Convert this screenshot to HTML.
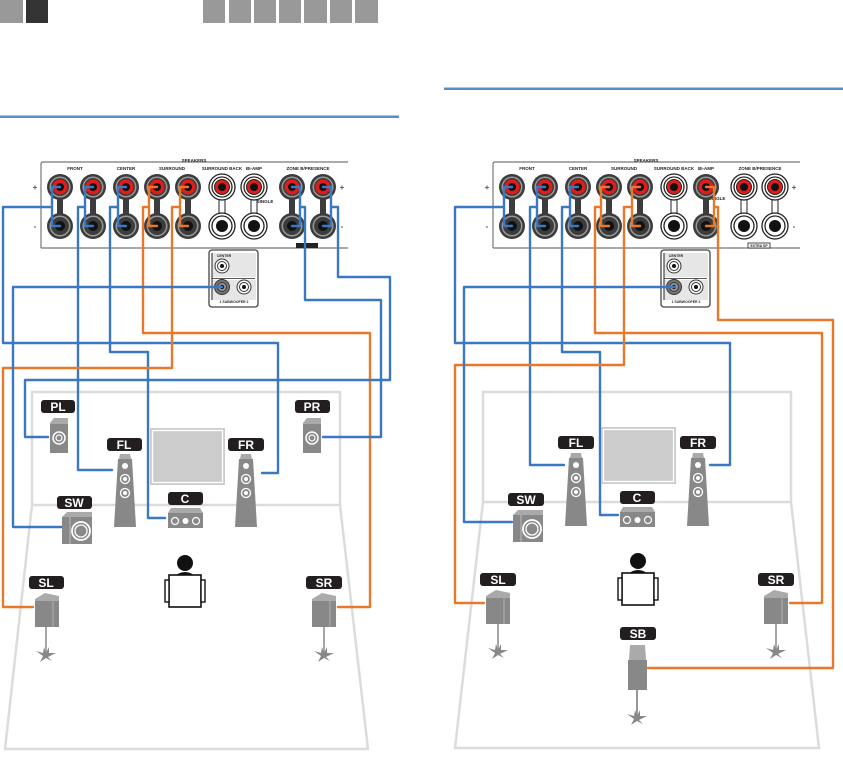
<!DOCTYPE html>
<html><head><meta charset="utf-8"><style>
html,body{margin:0;padding:0;background:#fff;}
svg{display:block;}
.lbl{font-family:"Liberation Sans",sans-serif;font-weight:bold;font-size:12px;fill:#fff;text-anchor:middle;}
.tiny{font-family:"Liberation Sans",sans-serif;font-weight:bold;font-size:4.5px;fill:#222;text-anchor:middle;}
.b{fill:none;stroke:#3a78c4;stroke-width:2.4;stroke-linejoin:round;stroke-linecap:round;}
.o{fill:none;stroke:#e8782a;stroke-width:2.4;stroke-linejoin:round;stroke-linecap:round;}
.room{fill:none;stroke:#dcdcdc;stroke-width:2.5;}
</style></head><body>
<svg width="843" height="762" viewBox="0 0 843 762" xmlns="http://www.w3.org/2000/svg">
<defs>
 <g id="jt"><circle r="13" fill="#3c3c3c"/><circle r="10.5" fill="#9a9a9a"/><circle r="9" fill="#3c3c3c"/><circle r="7.5" fill="#e21b1b"/><circle r="4" fill="#111"/></g>
 <g id="jb"><circle r="13" fill="#3c3c3c"/><circle r="10.5" fill="#9a9a9a"/><circle r="9" fill="#3c3c3c"/><circle r="5" fill="#111"/></g>
 <g id="wt"><circle r="13" fill="#fff" stroke="#222" stroke-width="1.3"/><circle r="10" fill="#fff" stroke="#222" stroke-width="1.3"/><circle r="7.5" fill="#e21b1b" stroke="#222" stroke-width="1"/><circle r="4" fill="#111"/></g>
 <g id="wb"><circle r="13" fill="#fff" stroke="#222" stroke-width="1.3"/><circle r="10" fill="#fff" stroke="#222" stroke-width="1.3"/><circle r="6" fill="#111"/></g>
 <g id="dpair"><rect x="-3" y="0" width="6" height="39" fill="#3c3c3c"/><use href="#jt"/><use href="#jb" y="39"/></g>
 <g id="wpair"><rect x="-3" y="0" width="6" height="39" fill="#fff" stroke="#222" stroke-width="1"/><use href="#wt"/><use href="#wb" y="39"/></g>
 <g id="subbox">
  <rect x="0" y="0" width="49" height="57" rx="3" fill="#fff" stroke="#444" stroke-width="1.3"/>
  <rect x="3" y="3" width="44" height="24" fill="#e6e6e6"/>
  <rect x="3" y="30" width="44" height="20" fill="#e6e6e6"/>
  <line x1="3" y1="28.5" x2="46" y2="28.5" stroke="#222" stroke-width="0.8"/>
  <line x1="3" y1="3" x2="3" y2="50" stroke="#222" stroke-width="1"/>
  <text x="15" y="7" class="tiny" style="font-size:3.5px">CENTER</text>
  <circle cx="13" cy="16" r="7" fill="#fff" stroke="#333" stroke-width="1"/><circle cx="13" cy="16" r="4.5" fill="none" stroke="#333"/><circle cx="13" cy="16" r="2" fill="#111"/>
  <circle cx="13" cy="37" r="7.5" fill="#777" stroke="#333"/><circle cx="13" cy="37" r="4.5" fill="#999" stroke="#333"/><circle cx="13" cy="37" r="2.2" fill="#111"/>
  <circle cx="35" cy="37" r="7" fill="#fff" stroke="#333"/><circle cx="35" cy="37" r="4.5" fill="none" stroke="#333"/><circle cx="35" cy="37" r="2" fill="#111"/>
  <text x="25" y="53" class="tiny" style="font-size:3.5px">1  SUBWOOFER  2</text>
 </g>
 <g id="box"><polygon points="0,5 4,0 18,0 18,6 0,6" fill="#aaa"/><rect x="0" y="6" width="18" height="29" fill="#888"/><circle cx="9" cy="20" r="6" fill="none" stroke="#fff" stroke-width="1.5"/><circle cx="9" cy="20" r="3" fill="none" stroke="#fff" stroke-width="1.2"/></g>
 <g id="tower"><polygon points="6,0 16,0 17,5 5,5" fill="#aaa"/><polygon points="4,5 18,5 22,73 0,73" fill="#888"/><circle cx="11" cy="12" r="3" fill="#fff"/><circle cx="11" cy="25" r="4.5" fill="none" stroke="#fff" stroke-width="1.3"/><circle cx="11" cy="25" r="2" fill="#fff"/><circle cx="11" cy="39" r="4.5" fill="none" stroke="#fff" stroke-width="1.3"/><circle cx="11" cy="39" r="2" fill="#fff"/></g>
 <g id="cube"><polygon points="0,6 10,0 24,3 24,9 0,9" fill="#aaa"/><rect x="0" y="8" width="24" height="26" fill="#888"/><line x1="18" y1="8" x2="18" y2="34" stroke="#bbb" stroke-width="0.8"/></g>
 <g id="stand"><line x1="0" y1="0" x2="0" y2="28" stroke="#888" stroke-width="1.5"/><polygon points="-10,24 -3,26 -2,20 0,26 3,20 3,26 10,26 2,30 6,34 0,31 -6,35 -3,29" fill="#888"/></g>
 <g id="cspk"><polygon points="3,0 32,0 35,5 0,5" fill="#aaa"/><rect x="0" y="5" width="35" height="15" fill="#888"/><circle cx="7" cy="13" r="3.5" fill="none" stroke="#fff" stroke-width="1.2"/><circle cx="17.5" cy="13" r="3" fill="#fff"/><circle cx="28" cy="13" r="3.5" fill="none" stroke="#fff" stroke-width="1.2"/></g>
 <g id="sw"><polygon points="0,5 5,0 30,0 30,5" fill="#aaa"/><rect x="0" y="5" width="30" height="27" fill="#888"/><line x1="8" y1="5" x2="8" y2="32" stroke="#bbb"/><circle cx="19" cy="19" r="9" fill="none" stroke="#fff" stroke-width="1.8"/><circle cx="19" cy="19" r="6" fill="none" stroke="#fff" stroke-width="1.3"/></g>
 <g id="person"><circle cx="0" cy="0" r="8" fill="#111"/><path d="M-9,12 Q0,6 9,12 Z" fill="#111"/><rect x="-16" y="12" width="32" height="32" fill="#fff" stroke="#111" stroke-width="1.6"/><rect x="-20" y="17" width="4" height="22" fill="#fff" stroke="#111" stroke-width="1.4"/><rect x="16" y="17" width="4" height="22" fill="#fff" stroke="#111" stroke-width="1.4"/></g>
 <g id="tv"><rect x="0" y="0" width="75" height="57" fill="#ccc"/><rect x="2.5" y="2.5" width="70" height="52" fill="none" stroke="#fff" stroke-width="1.3"/></g>
</defs>

<!-- header -->
<rect x="0" y="0" width="23" height="23" fill="#999"/>
<rect x="26" y="0" width="22" height="23" fill="#333"/>
<rect x="203" y="0" width="22" height="23" fill="#999"/>
<rect x="229" y="0" width="22" height="23" fill="#999"/>
<rect x="254" y="0" width="22" height="23" fill="#999"/>
<rect x="279" y="0" width="22" height="23" fill="#999"/>
<rect x="304" y="0" width="23" height="23" fill="#999"/>
<rect x="330" y="0" width="22" height="23" fill="#999"/>
<rect x="355" y="0" width="23" height="23" fill="#999"/>
<rect x="0" y="115.5" width="399" height="2.5" fill="#5a8ccc"/>
<rect x="444" y="87.5" width="399" height="2.5" fill="#5a8ccc"/>

<!-- rooms -->
<path class="room" d="M32,505 L32,392 L340,392 L340,505 M32,505 L340,505 M32,505 L5,749 L368,749 L340,505"/>
<path class="room" d="M483,502 L483,392 L791,392 L791,502 M483,502 L791,502 M483,502 L455,748 L819,748 L791,502"/>

<!-- LEFT receiver -->
<g>
 <path d="M41,248 L41,164 Q41,162 43,162 L348,162" fill="none" stroke="#777" stroke-width="1.2"/>
 <line x1="41" y1="248" x2="348" y2="248" stroke="#777" stroke-width="1.2"/>
 <text x="194" y="162" class="tiny">SPEAKERS</text>
 <text x="75" y="170" class="tiny">FRONT</text><text x="126" y="170" class="tiny">CENTER</text>
 <text x="172" y="170" class="tiny">SURROUND</text><text x="222" y="170" class="tiny">SURROUND BACK</text>
 <text x="254" y="170" class="tiny">BI-AMP</text><text x="308" y="170" class="tiny">ZONE B/PRESENCE</text>
 <text x="265" y="203" class="tiny">SINGLE</text>
 <text x="35" y="190" class="tiny" style="font-size:8px;fill:#555">+</text><text x="35" y="229" class="tiny" style="font-size:8px;fill:#555">-</text>
 <text x="342" y="190" class="tiny" style="font-size:8px;fill:#555">+</text><text x="342" y="229" class="tiny" style="font-size:8px;fill:#555">-</text>
 <rect x="296" y="243" width="22" height="5" fill="#222"/>
 <use href="#dpair" x="60" y="187"/><use href="#dpair" x="93" y="187"/><use href="#dpair" x="126" y="187"/>
 <use href="#dpair" x="157" y="187"/><use href="#dpair" x="188" y="187"/>
 <use href="#wpair" x="222" y="187"/><use href="#wpair" x="254" y="187"/>
 <use href="#dpair" x="292" y="187"/><use href="#dpair" x="323" y="187"/>
 <use href="#subbox" x="209" y="250"/>
</g>
<!-- RIGHT receiver -->
<g transform="translate(452,0)">
 <path d="M41,248 L41,164 Q41,162 43,162 L348,162" fill="none" stroke="#777" stroke-width="1.2"/>
 <line x1="41" y1="248" x2="348" y2="248" stroke="#777" stroke-width="1.2"/>
 <text x="194" y="162" class="tiny">SPEAKERS</text>
 <text x="75" y="170" class="tiny">FRONT</text><text x="126" y="170" class="tiny">CENTER</text>
 <text x="172" y="170" class="tiny">SURROUND</text><text x="222" y="170" class="tiny">SURROUND BACK</text>
 <text x="254" y="170" class="tiny">BI-AMP</text><text x="308" y="170" class="tiny">ZONE B/PRESENCE</text>
 <text x="265" y="200" class="tiny">SINGLE</text>
 <text x="35" y="190" class="tiny" style="font-size:8px;fill:#555">+</text><text x="35" y="229" class="tiny" style="font-size:8px;fill:#555">-</text>
 <text x="342" y="190" class="tiny" style="font-size:8px;fill:#555">+</text><text x="342" y="229" class="tiny" style="font-size:8px;fill:#555">-</text>
 <rect x="296" y="243" width="22" height="5" fill="#fff" stroke="#222" stroke-width="0.8"/>
 <text x="307" y="247" class="tiny" style="font-size:3.5px">EXTRA SP</text>
 <use href="#dpair" x="60" y="187"/><use href="#dpair" x="93" y="187"/><use href="#dpair" x="126" y="187"/>
 <use href="#dpair" x="157" y="187"/><use href="#dpair" x="188" y="187"/>
 <use href="#wpair" x="222" y="187"/><use href="#dpair" x="254" y="187"/>
 <use href="#wpair" x="292" y="187"/><use href="#wpair" x="323" y="187"/>
 <use href="#subbox" x="209" y="250"/>
</g>

<!-- LEFT wires -->
<path class="b" d="M60,187 L52,187 L52,226 L60,226 M52,207 L3,207 L3,343 L278,343 L278,473 L262,473"/>
<path class="b" d="M93,187 L85,187 L85,226 L93,226 M85,207 L78,207 L78,470 L112,470"/>
<path class="b" d="M126,187 L118,187 L118,226 L126,226 M118,207 L110,207 L110,352 L148,352 L148,518 L165,518"/>
<path class="o" d="M157,187 L149,187 L149,226 L157,226 M149,207 L143,207 L143,333 L370,333 L370,607 L338,607"/>
<path class="o" d="M188,187 L180,187 L180,226 L188,226 M180,207 L172,207 L172,368 L3,368 L3,607 L33,607"/>
<path class="b" d="M292,187 L300,187 L300,226 L292,226 M300,207 L305,207 L305,300 L381,300 L381,437 L323,437"/>
<path class="b" d="M323,187 L331,187 L331,226 L323,226 M331,207 L338,207 L338,277 L390,277 L390,380 L25,380 L25,437 L48,437"/>
<path class="b" d="M222,287 L13,287 L13,527 L62,527"/>

<!-- RIGHT wires -->
<path class="b" d="M512,187 L504,187 L504,226 L512,226 M504,207 L455,207 L455,343 L730,343 L730,465 L710,465"/>
<path class="b" d="M545,187 L537,187 L537,226 L545,226 M537,207 L530,207 L530,465 L564,465"/>
<path class="b" d="M578,187 L570,187 L570,226 L578,226 M570,207 L562,207 L562,352 L600,352 L600,515 L618,515"/>
<path class="o" d="M609,187 L601,187 L601,226 L609,226 M601,207 L595,207 L595,333 L822,333 L822,603 L790,603"/>
<path class="o" d="M640,187 L632,187 L632,226 L640,226 M632,207 L624,207 L624,365 L455,365 L455,603 L484,603"/>
<path class="o" d="M706,187 L714,187 L714,226 L706,226 M714,207 L718,207 L718,320 L833,320 L833,668 L648,668"/>
<path class="b" d="M675,287 L464,287 L464,522 L512,522"/>

<!-- LEFT speakers -->
<use href="#tv" x="150" y="428"/>
<rect x="41" y="400" width="34" height="13" rx="3" fill="#231f20"/><text x="58" y="411" class="lbl">PL</text>
<use href="#box" x="50" y="418"/>
<rect x="295" y="400" width="35" height="13" rx="3" fill="#231f20"/><text x="312" y="411" class="lbl">PR</text>
<use href="#box" x="303" y="418"/>
<rect x="107" y="438" width="35" height="13" rx="3" fill="#231f20"/><text x="124" y="449" class="lbl">FL</text>
<use href="#tower" x="114" y="454"/>
<rect x="228" y="438" width="36" height="13" rx="3" fill="#231f20"/><text x="246" y="449" class="lbl">FR</text>
<use href="#tower" x="235" y="454"/>
<rect x="168" y="492" width="35" height="13" rx="3" fill="#231f20"/><text x="185" y="503" class="lbl">C</text>
<use href="#cspk" x="168" y="508"/>
<rect x="57" y="496" width="35" height="13" rx="3" fill="#231f20"/><text x="74" y="507" class="lbl">SW</text>
<use href="#sw" x="62" y="512"/>
<use href="#person" x="185" y="563"/>
<rect x="29" y="576" width="35" height="13" rx="3" fill="#231f20"/><text x="46" y="587" class="lbl">SL</text>
<use href="#cube" x="35" y="593"/><use href="#stand" x="46" y="627"/>
<rect x="306" y="576" width="36" height="13" rx="3" fill="#231f20"/><text x="324" y="587" class="lbl">SR</text>
<use href="#cube" x="312" y="593"/><use href="#stand" x="324" y="627"/>

<!-- RIGHT speakers -->
<use href="#tv" x="601" y="427"/>
<rect x="558" y="436" width="36" height="13" rx="3" fill="#231f20"/><text x="576" y="447" class="lbl">FL</text>
<use href="#tower" x="565" y="453"/>
<rect x="680" y="436" width="36" height="13" rx="3" fill="#231f20"/><text x="698" y="447" class="lbl">FR</text>
<use href="#tower" x="687" y="453"/>
<rect x="620" y="491" width="35" height="13" rx="3" fill="#231f20"/><text x="637" y="502" class="lbl">C</text>
<use href="#cspk" x="620" y="507"/>
<rect x="508" y="493" width="36" height="13" rx="3" fill="#231f20"/><text x="526" y="504" class="lbl">SW</text>
<use href="#sw" x="513" y="510"/>
<use href="#person" x="638" y="561"/>
<rect x="480" y="573" width="36" height="13" rx="3" fill="#231f20"/><text x="498" y="584" class="lbl">SL</text>
<use href="#cube" x="486" y="590"/><use href="#stand" x="498" y="624"/>
<rect x="758" y="573" width="36" height="13" rx="3" fill="#231f20"/><text x="776" y="584" class="lbl">SR</text>
<use href="#cube" x="764" y="590"/><use href="#stand" x="776" y="624"/>
<rect x="620" y="627" width="36" height="13" rx="3" fill="#231f20"/><text x="638" y="638" class="lbl">SB</text>
<polygon points="630,645 645,645 646,660 629,660" fill="#aaa"/>
<rect x="628" y="660" width="19" height="30" fill="#888"/>
<use href="#stand" x="637" y="690"/>
<line x1="637" y1="690" x2="637" y2="720" stroke="#888" stroke-width="1.5"/>
</svg>
</body></html>
